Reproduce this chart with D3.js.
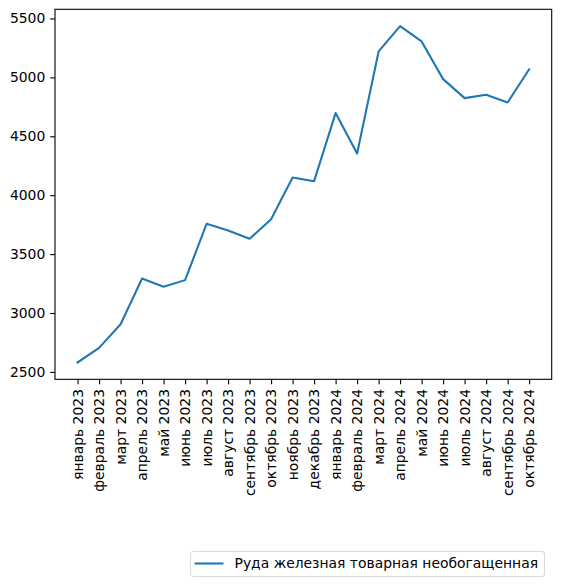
<!DOCTYPE html>
<html>
<head>
<meta charset="utf-8">
<script src="https://cdn.jsdelivr.net/npm/d3@7"></script>
<style>
  body { margin: 0; background: #fff; }
  text { font-family: "DejaVu Sans", sans-serif; fill: #000; }
</style>
</head>
<body>
<svg id="chart"></svg>
<script>
// monthly data
const months = ["январь 2023", "февраль 2023", "март 2023", "апрель 2023", "май 2023", "июнь 2023",
  "июль 2023", "август 2023", "сентябрь 2023", "октябрь 2023", "ноябрь 2023", "декабрь 2023",
  "январь 2024", "февраль 2024", "март 2024", "апрель 2024", "май 2024", "июнь 2024",
  "июль 2024", "август 2024", "сентябрь 2024", "октябрь 2024"];
const values = [2580, 2704, 2905, 3293, 3223, 3279, 3757, 3701, 3630, 3795, 4150, 4119,
  4697, 4354, 5220, 5435, 5305, 4985, 4824, 4853, 4787, 5068];
const yTicks = [2500, 3000, 3500, 4000, 4500, 5000, 5500];
const seriesName = "Руда железная товарная необогащенная";

const width = 561, height = 586;
const margin = { top: 9.3, right: 9.3, bottom: 206.7, left: 55 };
const innerW = width - margin.left - margin.right;
const innerH = height - margin.top - margin.bottom;
const fontSize = 13.9;

const svg = d3.select("#chart").attr("width", width).attr("height", height);
const chart = svg.append("g").attr("transform", `translate(${margin.left},${margin.top})`);

// matplotlib-like 5% margins
const n = months.length;
const xPad = (n - 1) * 0.05;
const x = d3.scaleLinear().domain([-xPad, n - 1 + xPad]).range([0, innerW]);
const yMin = d3.min(values), yMax = d3.max(values);
const yPad = (yMax - yMin) * 0.05;
const y = d3.scaleLinear().domain([yMin - yPad, yMax + yPad]).range([innerH, 0]);

const tickLen = 4.86, tickPad = 4.86;

// x axis
const xAxis = d3.axisBottom(x)
  .tickValues(d3.range(n))
  .tickFormat(i => months[i])
  .tickSizeInner(tickLen).tickSizeOuter(0).tickPadding(tickPad);
const xAxisG = chart.append("g").attr("transform", `translate(0,${innerH})`).call(xAxis)
  .attr("font-size", fontSize).attr("font-family", null);
xAxisG.select(".domain").remove();
xAxisG.selectAll(".tick line").attr("stroke", "#000").attr("stroke-width", 1.1);
xAxisG.selectAll(".tick text")
  .attr("font-size", fontSize)
  .attr("text-anchor", "end")
  .attr("dy", "0.32em")
  .attr("x", 0).attr("y", 0)
  .attr("transform", `translate(0,${tickLen + tickPad}) rotate(-90)`);

// y axis
const yAxis = d3.axisLeft(y).tickValues(yTicks).tickFormat(d3.format("d"))
  .tickSizeInner(tickLen).tickSizeOuter(0).tickPadding(tickPad);
const yAxisG = chart.append("g").call(yAxis)
  .attr("font-size", fontSize).attr("font-family", null);
yAxisG.select(".domain").remove();
yAxisG.selectAll(".tick line").attr("stroke", "#000").attr("stroke-width", 1.1);
yAxisG.selectAll(".tick text").attr("font-size", fontSize);

// line
const line = d3.line().x((d, i) => x(i)).y(d => y(d));
chart.append("path")
  .datum(values)
  .attr("fill", "none")
  .attr("stroke", "#1f77b4")
  .attr("stroke-width", 2.08)
  .attr("stroke-linejoin", "round")
  .attr("stroke-linecap", "square")
  .attr("d", line);

// frame
chart.append("rect")
  .attr("width", innerW).attr("height", innerH)
  .attr("fill", "none").attr("stroke", "#000").attr("stroke-width", 1.1);

// legend
const legend = svg.append("g").attr("transform", "translate(190.5,551.5)");
legend.append("rect")
  .attr("width", 354).attr("height", 25)
  .attr("rx", 2.5)
  .attr("fill", "#fff").attr("stroke", "#d9d9d9").attr("stroke-width", 1);
legend.append("line")
  .attr("x1", 4).attr("x2", 33).attr("y1", 12).attr("y2", 12)
  .attr("stroke", "#1f77b4").attr("stroke-width", 2.08);
legend.append("text")
  .attr("x", 44).attr("y", 12).attr("dy", "0.35em")
  .attr("font-size", fontSize)
  .text(seriesName);
</script>
</body>
</html>
